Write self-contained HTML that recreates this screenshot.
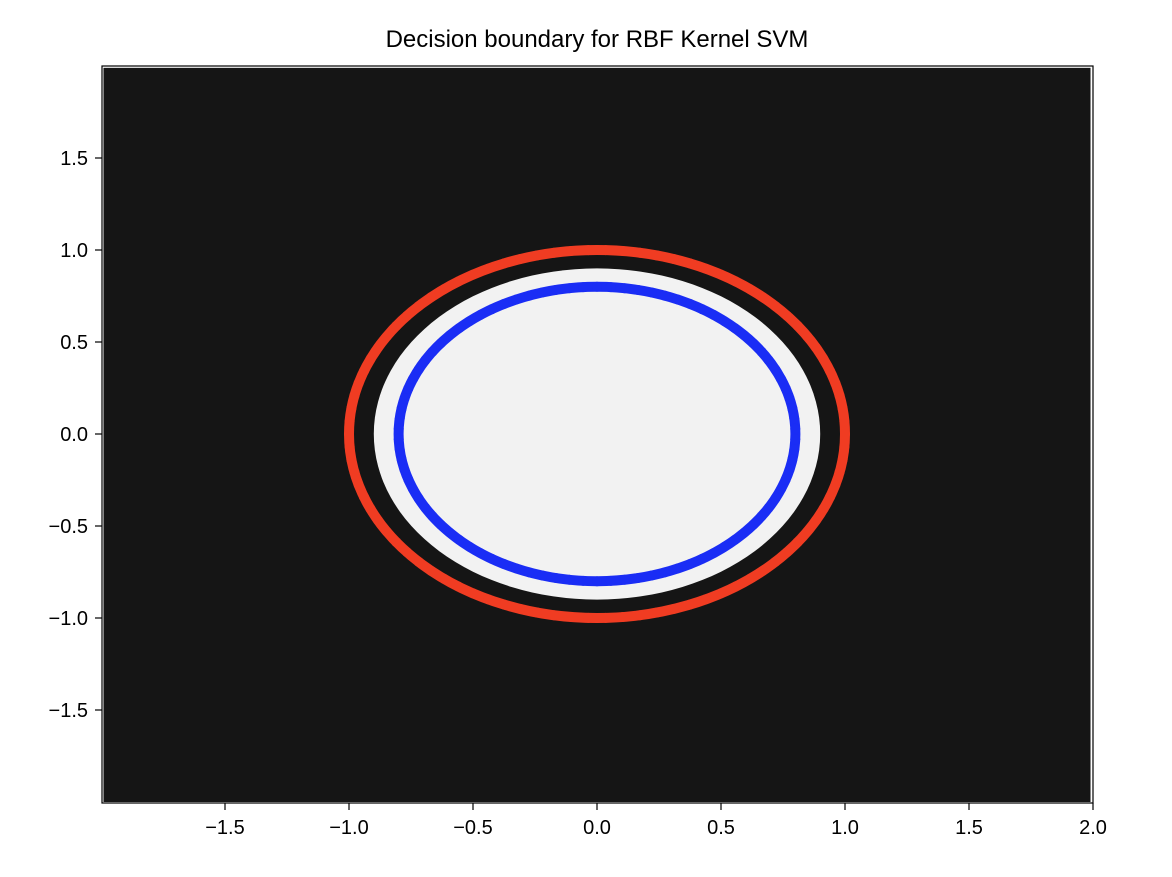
<!DOCTYPE html>
<html><head><meta charset="utf-8"><style>
body{margin:0;background:#fff;font-family:"Liberation Sans",sans-serif}
svg text{font-family:"Liberation Sans",sans-serif;font-size:20px;fill:#000}
</style></head><body>
<svg id="chart" width="1172" height="872" xmlns="http://www.w3.org/2000/svg">
<text x="597" y="47" text-anchor="middle" style="font-size:24px">Decision boundary for RBF Kernel SVM</text>
<g id="plot"></g>
</svg>
<script>
const xTicks=[-1.5,-1.0,-0.5,0.0,0.5,1.0,1.5,2.0];
const yTicks=[1.5,1.0,0.5,0.0,-0.5,-1.0,-1.5];
const outerRadius=[1.0];
const innerRadius=[0.8];
const boundaryRadius=[0.9];
const outerAngles=[0,4,8,12,16,20,24,28,32,36,40,44,48,52,56,60,64,68,72,76,80,84,88,92,96,100,104,108,112,116,120,124,128,132,136,140,144,148,152,156,160,164,168,172,176,180,184,188,192,196,200,204,208,212,216,220,224,228,232,236,240,244,248,252,256,260,264,268,272,276,280,284,288,292,296,300,304,308,312,316,320,324,328,332,336,340,344,348,352,356];
const innerAngles=[2,6,10,14,18,22,26,30,34,38,42,46,50,54,58,62,66,70,74,78,82,86,90,94,98,102,106,110,114,118,122,126,130,134,138,142,146,150,154,158,162,166,170,174,178,182,186,190,194,198,202,206,210,214,218,222,226,230,234,238,242,246,250,254,258,262,266,270,274,278,282,286,290,294,298,302,306,310,314,318,322,326,330,334,338,342,346,350,354,358];
const X=v=>597+v*248, Y=v=>434-v*184;
const g=document.getElementById('plot');
const NS='http://www.w3.org/2000/svg';
function mk(t,a){const e=document.createElementNS(NS,t);for(const k in a)e.setAttribute(k,a[k]);g.appendChild(e);return e;}
let e=mk('rect',{x:X(-1.99),y:Y(1.99),width:X(1.99)-X(-1.99),height:Y(-2)-Y(1.99),fill:'#151515'});


e=mk('ellipse',{cx:X(0),cy:Y(0),rx:X(boundaryRadius[0])-X(0),ry:Y(0)-Y(boundaryRadius[0]),fill:'#f2f2f2'});


e=mk('ellipse',{cx:X(0),cy:Y(0),rx:X(outerRadius[0])-X(0),ry:Y(0)-Y(outerRadius[0]),fill:'none',stroke:'#f03c22','stroke-width':10});


e=mk('ellipse',{cx:X(0),cy:Y(0),rx:X(innerRadius[0])-X(0),ry:Y(0)-Y(innerRadius[0]),fill:'none',stroke:'#1a2df5','stroke-width':10});


outerAngles.forEach(a=>{const r=a*Math.PI/180;const c=mk('circle',{cx:X(outerRadius[0]*Math.cos(r)),cy:Y(outerRadius[0]*Math.sin(r)),r:5,fill:'#f03c22'});

});
innerAngles.forEach(a=>{const r=a*Math.PI/180;const c=mk('circle',{cx:X(innerRadius[0]*Math.cos(r)),cy:Y(innerRadius[0]*Math.sin(r)),r:5,fill:'#1a2df5'});

});
e=mk('rect',{x:102,y:66,width:991,height:737,fill:'none',stroke:'#000','stroke-width':1.2});


const fmt=v=>(v<0?'\u2212':'')+Math.abs(v).toFixed(1);
xTicks.forEach(v=>{mk('line',{x1:X(v),x2:X(v),y1:803,y2:810,stroke:'#000','stroke-width':1.2});
const t=mk('text',{x:X(v),y:834,'text-anchor':'middle'});t.textContent=fmt(v);

});
yTicks.forEach(v=>{mk('line',{x1:95,x2:102,y1:Y(v),y2:Y(v),stroke:'#000','stroke-width':1.2});
const t=mk('text',{x:88,y:Y(v)+7,'text-anchor':'end'});t.textContent=fmt(v);

});
</script>
</body></html>
